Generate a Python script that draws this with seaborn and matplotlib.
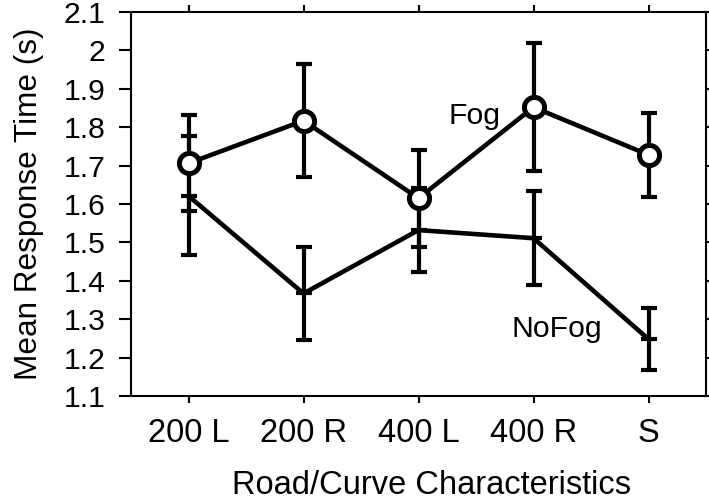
import matplotlib
matplotlib.use("Agg")
import matplotlib.pyplot as plt
import seaborn as sns
import pandas as pd

categories = ["200 L", "200 R", "400 L", "400 R", "S"]
fog_mean = [1.706, 1.817, 1.615, 1.852, 1.728]
fog_err = [0.125, 0.147, 0.126, 0.167, 0.110]
nofog_mean = [1.621, 1.367, 1.532, 1.511, 1.248]
nofog_err = [0.155, 0.121, 0.110, 0.122, 0.080]
yticks = [1.1, 1.2, 1.3, 1.4, 1.5, 1.6, 1.7, 1.8, 1.9, 2.0, 2.1]
ytick_labels = ["1.1", "1.2", "1.3", "1.4", "1.5", "1.6", "1.7", "1.8", "1.9", "2", "2.1"]

sns.set_theme(style="ticks")
plt.rcParams["font.family"] = ["Liberation Sans", "DejaVu Sans"]
plt.rcParams["text.color"] = "black"
plt.rcParams["axes.labelcolor"] = "black"

df = pd.DataFrame({
    "cond": ["Fog"] * 5 + ["NoFog"] * 5,
    "cat": categories * 2,
    "x": list(range(5)) * 2,
    "mean": fog_mean + nofog_mean,
    "err": fog_err + nofog_err,
})

fig = plt.figure(figsize=(7.09, 5.01), dpi=100)
ax = fig.add_axes([131 / 709, 1 - 396 / 501, (706 - 131) / 709, (396 - 12) / 501])

fog = df[df.cond == "Fog"]
nof = df[df.cond == "NoFog"]

ax.errorbar(nof.x, nof["mean"], yerr=nof.err, fmt="none", ecolor="black",
            elinewidth=3, capsize=5.5, capthick=3, zorder=2)
ax.errorbar(fog.x, fog["mean"], yerr=fog.err, fmt="none", ecolor="black",
            elinewidth=3, capsize=5.5, capthick=3, zorder=2)

sns.lineplot(data=nof, x="x", y="mean", ax=ax, color="black", linewidth=3.3,
             marker="_", markersize=11, markeredgewidth=3,
             markeredgecolor="black", zorder=3, legend=False)
sns.lineplot(data=fog, x="x", y="mean", ax=ax, color="black", linewidth=3.3,
             marker="o", markersize=14.5, markerfacecolor="white",
             markeredgecolor="black", markeredgewidth=3.6, zorder=4, legend=False)

ax.set_xlim(-0.5, 4.5)
ax.set_ylim(1.1, 2.1)
ax.set_xticks(range(5))
ax.set_xticklabels(categories)
ax.set_yticks(yticks)
ax.set_yticklabels(ytick_labels)
ax.tick_params(axis="both", which="both", direction="out", width=1.5,
               colors="black", top=True, right=True)
ax.tick_params(axis="x", length=5, pad=11, labelsize=23.5)
ax.tick_params(axis="y", length=8.6, pad=10, labelsize=21.7)
for s in ax.spines.values():
    s.set_linewidth(1.5)
    s.set_color("black")

ax.set_xlabel("Road/Curve Characteristics", fontsize=23.5)
ax.set_ylabel("Mean Response Time (s)", fontsize=22.7)
ax.xaxis.set_label_coords((431.5 - 131) / 575, (396 - 470) / 384)
ax.yaxis.set_label_coords((44 - 131) / 575, 0.5)

ax.text(2.71, 1.829, "Fog", fontsize=21.7, ha="right", va="center")
ax.text(3.60, 1.275, "NoFog", fontsize=21.7, ha="right", va="center")

fig.savefig("out.png", dpi=100)
